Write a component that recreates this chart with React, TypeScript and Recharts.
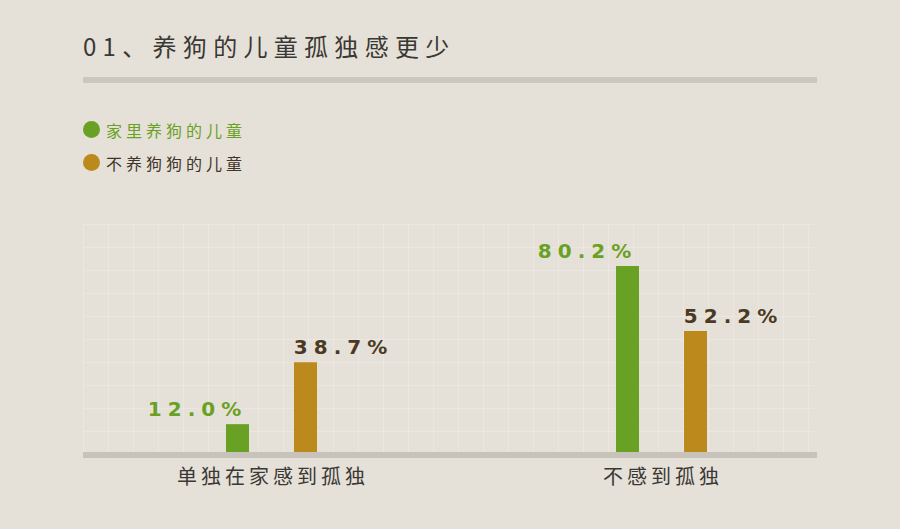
import React from 'react';
import { BarChart, Bar, XAxis, YAxis, LabelList, Legend } from 'recharts';

// data
const categories = ['单独在家感到孤独', '不感到孤独'];
const withDog = [12.0, 80.2];
const withoutDog = [38.7, 52.2];
const seriesNames = ['家里养狗的儿童', '不养狗狗的儿童'];
const title = '01、养狗的儿童孤独感更少';

const GREEN = '#69a124';
const ORANGE = '#bc891d';
const CJK = '"Noto Sans CJK SC", "Noto Sans", sans-serif';

const chartData = categories.map((name, i) => ({
  name,
  withDog: withDog[i],
  withoutDog: withoutDog[i],
}));

const makeLabel = (color: string, shift: number) => (props: any) => {
  const { x, y, width, value } = props;
  return (
    <text
      x={x + width / 2 + shift}
      y={y - 8}
      textAnchor="middle"
      fill={color}
      fontSize={20}
      fontWeight={700}
      fontFamily='"DejaVu Sans", sans-serif'
      letterSpacing={6}
    >
      {Number(value).toFixed(1) + '%'}
    </text>
  );
};

const CategoryTick = (props: any) => {
  const { x, y, payload } = props;
  return (
    <text x={x + 2} y={y + 24} textAnchor="middle" fill="#3a3835" fontSize={20} fontFamily={CJK} letterSpacing={4}>
      {payload.value}
    </text>
  );
};

const LegendContent = (props: any) => {
  const items = [...(props.payload || [])].sort(
    (a: any, b: any) => seriesNames.indexOf(a.value) - seriesNames.indexOf(b.value)
  );
  return (
    <div style={{ fontFamily: CJK }}>
      {items.map((p: any, i: number) => (
        <div key={i} style={{ display: 'flex', alignItems: 'center', height: 33 }}>
          <span style={{ width: 17, height: 17, borderRadius: '50%', background: p.color, display: 'inline-block' }} />
          <span style={{ marginLeft: 6, fontSize: 16, letterSpacing: 4, color: p.color === GREEN ? GREEN : '#3f3528' }}>
            {p.value}
          </span>
        </div>
      ))}
    </div>
  );
};

export default function App() {
  return (
    <div style={{ position: 'absolute', left: 0, top: 0, width: 900, height: 529, background: '#e6e1d8', overflow: 'hidden' }}>
      <div style={{ position: 'absolute', left: 83, top: 28, fontFamily: CJK, fontSize: 24, letterSpacing: 6.3, color: '#3a3835', whiteSpace: 'nowrap' }}>
        {title}
      </div>
      <div style={{ position: 'absolute', left: 83, top: 77, width: 734, height: 6, background: '#cbc6be' }} />
      {/* faint paper grid behind the plot */}
      <div
        style={{
          position: 'absolute', left: 83, top: 224, width: 732, height: 228,
          backgroundImage:
            'linear-gradient(to right, rgba(255,255,255,0.2) 1px, transparent 1px), linear-gradient(to bottom, rgba(255,255,255,0.2) 1px, transparent 1px)',
          backgroundSize: '25px 23px',
        }}
      />
      <div style={{ position: 'absolute', left: 83, top: 452, width: 734, height: 6, background: '#c7c2ba' }} />
      <div style={{ position: 'absolute', left: 0, top: 0 }}>
        <BarChart width={900} height={529} data={chartData} margin={{ top: 220, right: 44, left: 76, bottom: 0 }} barGap={45}>
          <XAxis dataKey="name" height={77} axisLine={false} tickLine={false} tick={<CategoryTick />} interval={0} />
          <YAxis hide domain={[0, 100]} />
          <Legend
            verticalAlign="middle"
            align="center"
            layout="horizontal"
            content={<LegendContent />}
            wrapperStyle={{ position: 'absolute', top: 113, left: 83, width: 300 }}
          />
          <Bar dataKey="withDog" name={seriesNames[0]} fill={GREEN} barSize={23} isAnimationActive={false} legendType="circle">
            <LabelList dataKey="withDog" content={makeLabel(GREEN, -40)} />
          </Bar>
          <Bar dataKey="withoutDog" name={seriesNames[1]} fill={ORANGE} barSize={23} isAnimationActive={false} legendType="circle">
            <LabelList dataKey="withoutDog" content={makeLabel('#4a3a24', 38)} />
          </Bar>
        </BarChart>
      </div>
    </div>
  );
}
